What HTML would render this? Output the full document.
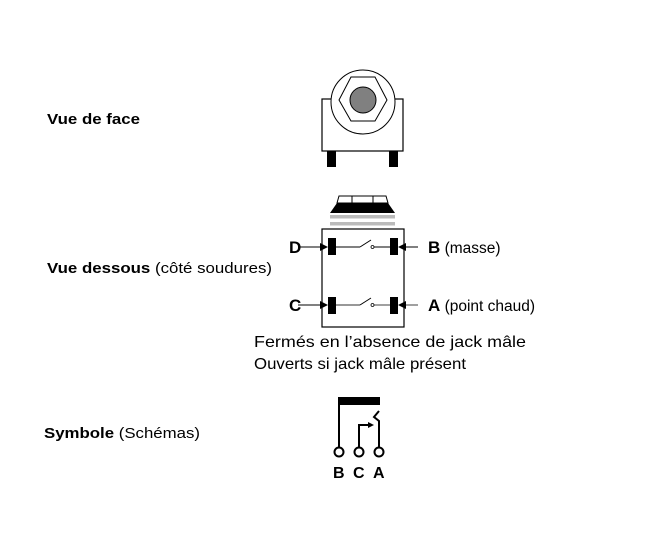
<!DOCTYPE html>
<html><head><meta charset="utf-8"><style>
html,body{margin:0;padding:0;background:#fff}
svg{display:block}
text{font-family:"Liberation Sans",Arial,sans-serif;fill:#000}
</style></head><body>
<svg width="662" height="547" viewBox="0 0 662 547" xmlns="http://www.w3.org/2000/svg">
<text x="47" y="124" style="font-size:15px;font-weight:bold" textLength="93" lengthAdjust="spacingAndGlyphs">Vue de face</text>
<text x="47" y="273" style="font-size:15px" textLength="225" lengthAdjust="spacingAndGlyphs"><tspan font-weight="bold">Vue dessous</tspan> (côté soudures)</text>
<text x="44" y="438" style="font-size:15px" textLength="156" lengthAdjust="spacingAndGlyphs"><tspan font-weight="bold">Symbole</tspan> (Schémas)</text>

<!-- front view -->
<rect x="322" y="99" width="81" height="52" fill="#fff" stroke="#000" stroke-width="1.2"/>
<circle cx="363" cy="102" r="32" fill="#fff" stroke="#000" stroke-width="1"/>
<polygon points="339,100 351,77 375,77 387,100 375,121 351,121" fill="#fff" stroke="#000" stroke-width="1"/>
<circle cx="363" cy="100" r="13" fill="#808080" stroke="#000" stroke-width="1"/>
<rect x="327" y="151" width="9" height="16" fill="#000"/>
<rect x="389" y="151" width="9" height="16" fill="#000"/>

<!-- bottom view -->
<polygon points="339,196 386,196 388,203 337,203" fill="#fff" stroke="#000" stroke-width="1"/>
<line x1="352" y1="196" x2="352" y2="203" stroke="#000"/>
<line x1="373" y1="196" x2="373" y2="203" stroke="#000"/>
<polygon points="337,203 388,203 395,213 330,213" fill="#000"/>
<rect x="330" y="215" width="65" height="3.5" fill="#bbb"/>
<rect x="330" y="222" width="65" height="3.5" fill="#bbb"/>
<rect x="322" y="229" width="82" height="98" fill="#fff" stroke="#000" stroke-width="1.2"/>

<g stroke="#000" stroke-width="1">
<line x1="336" y1="247" x2="360" y2="247"/>
<line x1="360" y1="247" x2="371" y2="240"/>
<line x1="374" y1="247" x2="390" y2="247"/>
<line x1="298" y1="247" x2="322" y2="247"/>
<line x1="405" y1="247" x2="418" y2="247"/>
</g>
<circle cx="372.5" cy="247" r="1.5" fill="#fff" stroke="#000" stroke-width="0.8"/>
<g stroke="#777" stroke-width="1.4">
<line x1="336" y1="305" x2="360" y2="305"/>
<line x1="374" y1="305" x2="390" y2="305"/>
<line x1="405" y1="305" x2="418" y2="305"/>
</g>
<line x1="360" y1="305" x2="371" y2="298" stroke="#000"/>
<line x1="298" y1="305" x2="322" y2="305" stroke="#000"/>
<circle cx="372.5" cy="305" r="1.5" fill="#fff" stroke="#000" stroke-width="0.8"/>
<polygon points="320,243 328,247 320,251" fill="#000"/>
<polygon points="320,301 328,305 320,309" fill="#000"/>
<polygon points="406,243 398,247 406,251" fill="#000"/>
<polygon points="406,301 398,305 406,309" fill="#000"/>
<rect x="328" y="238" width="8" height="17" fill="#000"/>
<rect x="390" y="238" width="8" height="17" fill="#000"/>
<rect x="328" y="297" width="8" height="17" fill="#000"/>
<rect x="390" y="297" width="8" height="17" fill="#000"/>
<text x="289" y="253" style="font-size:17px;font-weight:bold">D</text>
<text x="289" y="311" style="font-size:17px;font-weight:bold">C</text>
<text x="428" y="253" style="font-size:15.5px"><tspan style="font-weight:bold;font-size:17px">B</tspan> (masse)</text>
<text x="428" y="311" style="font-size:15.5px"><tspan style="font-weight:bold;font-size:17px">A</tspan> (point chaud)</text>
<text x="254" y="347" style="font-size:16px" textLength="272" lengthAdjust="spacingAndGlyphs">Fermés en l’absence de jack mâle</text>
<text x="254" y="369" style="font-size:16px" textLength="212" lengthAdjust="spacingAndGlyphs">Ouverts si jack mâle présent</text>

<!-- symbol -->
<rect x="338" y="397" width="42" height="8" fill="#000"/>
<g stroke="#000" stroke-width="2" fill="none">
<line x1="339" y1="405" x2="339" y2="447"/>
<polyline points="359,447 359,425 370,425"/>
<polyline points="379,447 379,421 374,417 379,411"/>
<circle cx="339" cy="452" r="4.5" fill="#fff"/>
<circle cx="359" cy="452" r="4.5" fill="#fff"/>
<circle cx="379" cy="452" r="4.5" fill="#fff"/>
</g>
<polygon points="368,422 374,425 368,428" fill="#000"/>
<text x="333" y="478" style="font-size:16px;font-weight:bold">B</text>
<text x="353" y="478" style="font-size:16px;font-weight:bold">C</text>
<text x="373" y="478" style="font-size:16px;font-weight:bold">A</text>
</svg>
</body></html>
